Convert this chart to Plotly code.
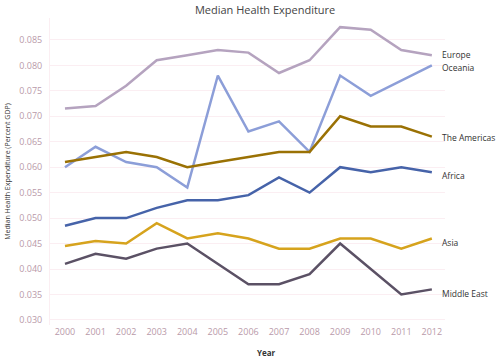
import plotly.graph_objects as go

years = list(range(2000, 2013))
regions = ["Europe", "Oceania", "The Americas", "Africa", "Asia", "Middle East"]
europe = [0.0715, 0.072, 0.076, 0.081, 0.082, 0.083, 0.0825, 0.0785, 0.081, 0.0875, 0.087, 0.083, 0.082]
oceania = [0.060, 0.064, 0.061, 0.060, 0.056, 0.078, 0.067, 0.069, 0.063, 0.078, 0.074, 0.077, 0.080]
americas = [0.061, 0.062, 0.063, 0.062, 0.060, 0.061, 0.062, 0.063, 0.063, 0.070, 0.068, 0.068, 0.066]
africa = [0.0485, 0.050, 0.050, 0.052, 0.0535, 0.0535, 0.0545, 0.058, 0.055, 0.060, 0.059, 0.060, 0.059]
asia = [0.0445, 0.0455, 0.045, 0.049, 0.046, 0.047, 0.046, 0.044, 0.044, 0.046, 0.046, 0.044, 0.046]
middle_east = [0.041, 0.043, 0.042, 0.044, 0.045, 0.041, 0.037, 0.037, 0.039, 0.045, 0.040, 0.035, 0.036]
series = [europe, oceania, americas, africa, asia, middle_east]
colors = ["#b5a3bf", "#8c9ed8", "#9a7104", "#4663a9", "#d6a31d", "#5b5165"]
label_yshift = [1, -2, -1, -3, -4, -4]
y_ticks = [0.030, 0.035, 0.040, 0.045, 0.050, 0.055, 0.060, 0.065, 0.070, 0.075, 0.080, 0.085]

font_family = "Open Sans"
fig = go.Figure()
for name, vals, col, ys in zip(regions, series, colors, label_yshift):
    fig.add_trace(go.Scatter(x=years, y=vals, mode="lines", name=name,
                             line=dict(color=col, width=2.5), showlegend=False))
    fig.add_annotation(x=years[-1], y=vals[-1], text=name, xref="x", yref="y",
                       xanchor="left", yanchor="middle", xshift=8, yshift=ys, showarrow=False,
                       font=dict(family=font_family, size=8.5, color="#333333"))

fig.add_annotation(text="<b>Year</b>", xref="paper", yref="paper", x=0.547, y=0,
                   xanchor="center", yanchor="middle", yshift=-27, showarrow=False,
                   font=dict(family=font_family, size=8, color="#333333"))

fig.update_layout(
    width=504, height=360,
    margin=dict(l=50, r=59, t=18, b=35, autoexpand=False),
    paper_bgcolor="white", plot_bgcolor="white",
    title=dict(text="Median Health Expenditure", x=0.526, xref="container", xanchor="center",
               y=0.972, yref="container", yanchor="middle", automargin=False,
               font=dict(family=font_family, size=11, color="#444444")),
    font=dict(family=font_family),
)
fig.update_xaxes(
    range=[1999.51, 2012.43], tickvals=years, ticktext=[str(y) for y in years],
    showgrid=False, zeroline=False, showline=False, automargin=False,
    tickfont=dict(family=font_family, size=9, color="#b99aa9"),
)
fig.update_yaxes(
    range=[0.029, 0.0893], tickvals=y_ticks, ticktext=[f"{v:.3f}" for v in y_ticks],
    showgrid=True, gridcolor="#fbeef2", gridwidth=1, zeroline=False,
    showline=True, linecolor="#fbeef2", linewidth=1, automargin=False,
    tickfont=dict(family=font_family, size=9, color="#b99aa9"),
    ticks="", ticklabelstandoff=5,
    title=dict(text="Median Health Expenditure (Percent GDP)", font=dict(family=font_family, size=7, color="#333333"), standoff=7),
)
fig.write_html("out.html", config={"displayModeBar": False},
               post_script="document.body.style.margin='0';")
